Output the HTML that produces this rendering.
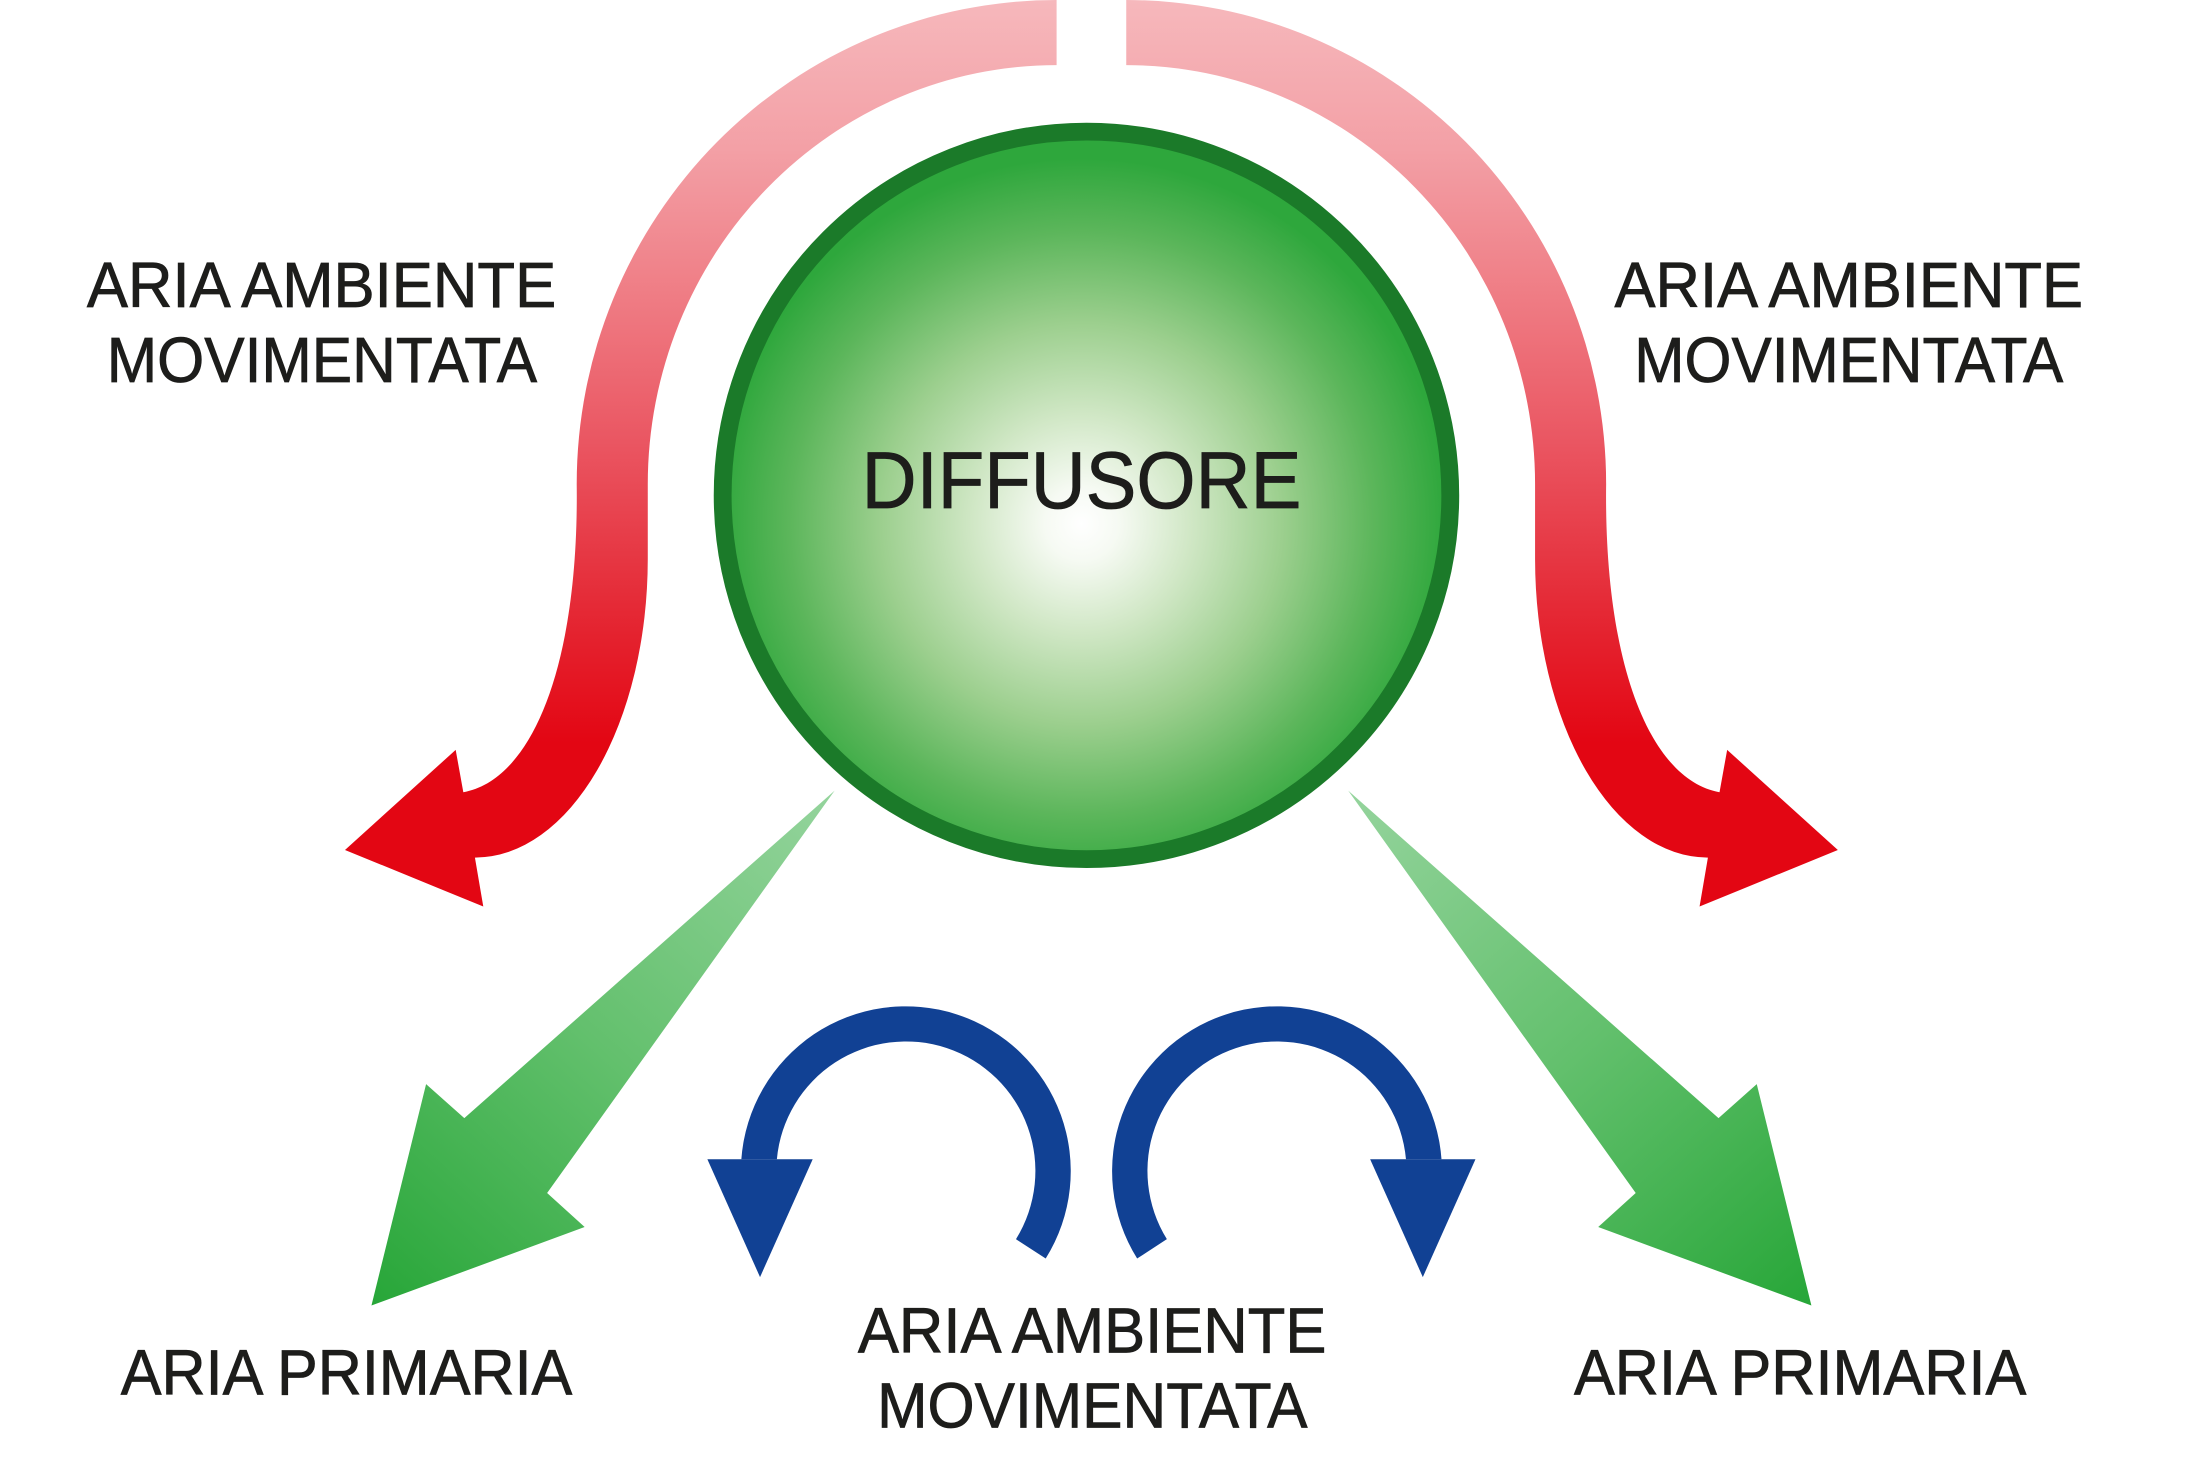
<!DOCTYPE html>
<html>
<head>
<meta charset="utf-8">
<style>
  html, body { margin: 0; padding: 0; background: #ffffff; }
  svg { display: block; }
  text { font-family: "Liberation Sans", Arial, sans-serif; fill: #1d1d1b; stroke: #1d1d1b; stroke-width: 0.55; }
</style>
</head>
<body>
<svg xmlns="http://www.w3.org/2000/svg" xmlns:xlink="http://www.w3.org/1999/xlink" width="2197" height="1472" viewBox="0 0 1552 1040" preserveAspectRatio="none">
  <defs>
    <linearGradient id="redGrad" gradientUnits="userSpaceOnUse" x1="0" y1="0" x2="0" y2="525">
      <stop offset="0" stop-color="#f6b8bc"/>
      <stop offset="0.2" stop-color="#f3a0a6"/>
      <stop offset="0.4" stop-color="#ef7c84"/>
      <stop offset="0.6" stop-color="#ea5561"/>
      <stop offset="0.8" stop-color="#e52d39"/>
      <stop offset="1" stop-color="#e30613"/>
    </linearGradient>
    <linearGradient id="greenGrad" gradientUnits="userSpaceOnUse" x1="589.6" y1="558.6" x2="262.4" y2="922.4">
      <stop offset="0" stop-color="#95d49d"/>
      <stop offset="0.5" stop-color="#63c06d"/>
      <stop offset="1" stop-color="#27a638"/>
    </linearGradient>
    <radialGradient id="ballGrad" gradientUnits="userSpaceOnUse" cx="764" cy="370" r="258">
      <stop offset="0" stop-color="#ffffff"/>
      <stop offset="0.1" stop-color="#f6faf3"/>
      <stop offset="0.3" stop-color="#d0e7c5"/>
      <stop offset="0.55" stop-color="#9ccf8e"/>
      <stop offset="0.8" stop-color="#5cb65b"/>
      <stop offset="1" stop-color="#2ea73c"/>
    </radialGradient>

    <path id="redArrow" fill="url(#redGrad)" d="
      M 746.4,0
      A 339 342 0 0 0 407.4,342
      C 409,470 376,551 327.3,559.7
      L 321.9,529.8
      L 243.7,600.5
      L 341.4,640.5
      L 335.5,605.9
      A 122 211 0 0 0 457.6,395
      L 457.6,342
      A 288.8 296 0 0 1 746.4,46
      Z"/>

    <path id="greenArrow" fill="url(#greenGrad)" d="
      M 589.6,558.6
      L 328,790
      L 301,766
      L 262.4,922.4
      L 413,866.9
      L 386.5,842.9
      Z"/>

    <g id="blueArrow" fill="#114194">
      <path d="M 523.7,819 A 116.5 116.5 0 1 1 738.7,889.2 L 717.7,875.5 A 91.5 91.5 0 1 0 548.8,819 Z"/>
      <polygon points="499.7,819 574.1,819 536.9,902.3"/>
    </g>
  </defs>

  <rect x="0" y="0" width="1552" height="1040" fill="#ffffff"/>

  <!-- red curved arrows -->
  <use xlink:href="#redArrow"/>
  <use xlink:href="#redArrow" transform="translate(1542,0) scale(-1,1)"/>

  <!-- green arrows -->
  <use xlink:href="#greenArrow"/>
  <use xlink:href="#greenArrow" transform="translate(1542,0) scale(-1,1)"/>

  <!-- blue arrows -->
  <use xlink:href="#blueArrow"/>
  <use xlink:href="#blueArrow" transform="translate(1542,0) scale(-1,1)"/>

  <!-- diffuser -->
  <circle cx="767.5" cy="350" r="257" fill="url(#ballGrad)" stroke="#1b7a29" stroke-width="12.6"/>
  <text x="608.7" y="359" font-size="57" textLength="310.6" lengthAdjust="spacingAndGlyphs">DIFFUSORE</text>

  <!-- labels -->
  <text x="61.4" y="217" font-size="45" textLength="331.5" lengthAdjust="spacingAndGlyphs">ARIA AMBIENTE</text>
  <text x="75.4" y="270" font-size="45" textLength="304" lengthAdjust="spacingAndGlyphs">MOVIMENTATA</text>

  <text x="1140.5" y="217" font-size="45" textLength="331" lengthAdjust="spacingAndGlyphs">ARIA AMBIENTE</text>
  <text x="1154.5" y="270" font-size="45" textLength="303" lengthAdjust="spacingAndGlyphs">MOVIMENTATA</text>

  <text x="606" y="955.5" font-size="45" textLength="331" lengthAdjust="spacingAndGlyphs">ARIA AMBIENTE</text>
  <text x="619.6" y="1008.5" font-size="45" textLength="304" lengthAdjust="spacingAndGlyphs">MOVIMENTATA</text>

  <text x="85.3" y="985.3" font-size="45" textLength="319" lengthAdjust="spacingAndGlyphs">ARIA PRIMARIA</text>
  <text x="1111.9" y="985.3" font-size="45" textLength="319.5" lengthAdjust="spacingAndGlyphs">ARIA PRIMARIA</text>
</svg>
</body>
</html>
